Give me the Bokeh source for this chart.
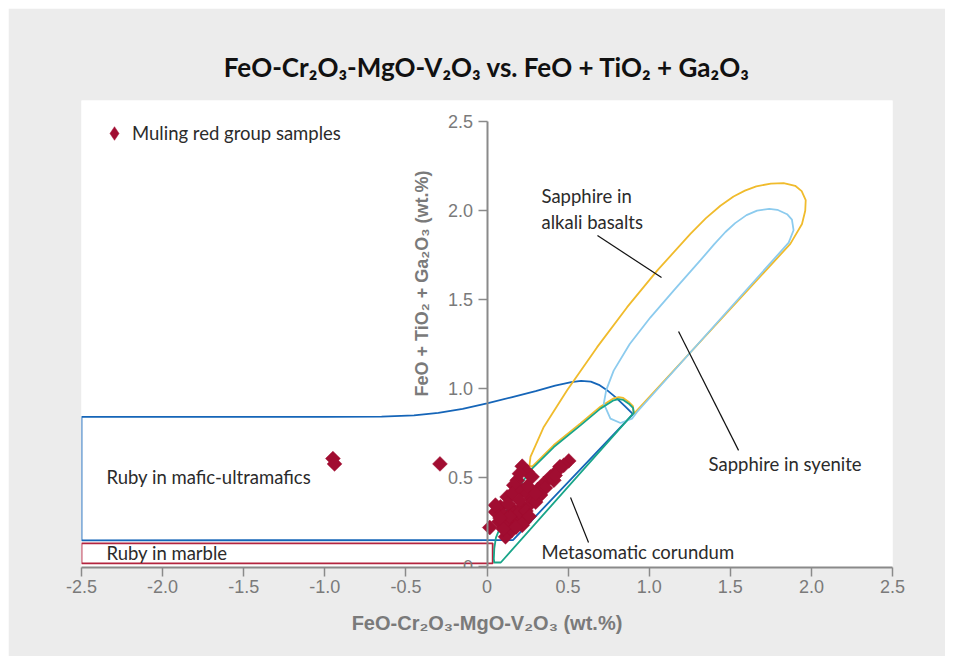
import math
from bokeh.plotting import figure
from bokeh.models import Range1d, FixedTicker, NumeralTickFormatter, Label, Legend, LegendItem, ColumnDataSource
from bokeh.core.properties import value
from bokeh.embed import file_html
from bokeh.resources import INLINE

# ---------------- data ----------------
sample_x = [-0.95, -0.94, -0.29,
            0.217, 0.248, 0.186, 0.165, 0.278, 0.504, 0.473, 0.432, 0.391, 0.350, 0.313, 0.412,
            0.124, 0.155, 0.217, 0.248, 0.278, 0.083, 0.052, 0.104, 0.165, 0.217, 0.268,
            0.186, 0.134, 0.073, 0.017, 0.114, 0.155, 0.217, 0.052, 0.45, 0.36, 0.33, 0.42,
            0.30, 0.20, 0.24, 0.20, 0.25, 0.14, 0.18, 0.10, 0.08, 0.13, 0.23, 0.26, 0.30, 0.20]
sample_y = [0.605, 0.575, 0.575,
            0.562, 0.530, 0.483, 0.455, 0.502, 0.592, 0.567, 0.535, 0.502, 0.465, 0.431, 0.483,
            0.389, 0.408, 0.426, 0.408, 0.380, 0.333, 0.305, 0.287, 0.315, 0.333, 0.351,
            0.258, 0.240, 0.249, 0.217, 0.165, 0.202, 0.230, 0.343, 0.560, 0.440, 0.400, 0.510,
            0.360, 0.300, 0.310, 0.370, 0.450, 0.280, 0.220, 0.210, 0.270, 0.350, 0.250, 0.280, 0.410, 0.520]

# field outlines (vertices of hand-read boundaries)
marble_x = [-2.5, 0.035, 0.035, -2.5, -2.5]
marble_y = [0.015, 0.015, 0.128, 0.128, 0.015]

mafic_x = [-2.5, -2.5, -1.0, -0.65, -0.45, -0.3, -0.15, 0.0, 0.15, 0.3, 0.42, 0.52, 0.58, 0.64, 0.69,
           0.74, 0.79, 0.85, 0.9, 0.16, -2.5]
mafic_y = [0.145, 0.84, 0.84, 0.841, 0.848, 0.862, 0.885, 0.915, 0.95, 0.985, 1.015, 1.035, 1.042, 1.038, 1.02,
           0.99, 0.952, 0.9, 0.855, 0.146, 0.145]

meta_x = [0.085, 0.905, 0.9, 0.874, 0.84, 0.812, 0.781, 0.699, 0.576, 0.412, 0.278, 0.2, 0.13, 0.09, 0.073,
          0.055, 0.045, 0.042, 0.045, 0.085]
meta_y = [0.02, 0.862, 0.89, 0.914, 0.935, 0.94, 0.933, 0.886, 0.792, 0.670, 0.549, 0.45, 0.33, 0.25, 0.20,
          0.16, 0.10, 0.04, 0.02, 0.02]

basalt_x = [0.262, 0.268, 0.350, 0.494, 0.679, 0.864, 1.049, 1.254, 1.35, 1.439, 1.52, 1.59, 1.66, 1.75, 1.829,
            1.90, 1.94, 1.965, 1.962, 1.942, 1.870, 0.905, 0.9, 0.872, 0.84, 0.812, 0.781, 0.699, 0.576, 0.412,
            0.278, 0.262]
basalt_y = [0.565, 0.614, 0.783, 0.989, 1.232, 1.457, 1.663, 1.869, 1.958, 2.028, 2.08, 2.113, 2.137, 2.152, 2.155,
            2.14, 2.11, 2.06, 2.0, 1.925, 1.813, 0.857, 0.9, 0.925, 0.946, 0.951, 0.944, 0.897, 0.803, 0.681,
            0.56, 0.565]

syenite_x = [0.925, 0.894, 0.823, 0.761, 0.720, 0.735, 0.781, 0.88, 1.008, 1.16, 1.315, 1.40, 1.47, 1.53, 1.6,
             1.665, 1.74, 1.79, 1.85, 1.88, 1.89, 1.86, 0.925]
syenite_y = [0.867, 0.830, 0.805, 0.830, 0.914, 0.99, 1.10, 1.25, 1.40, 1.56, 1.72, 1.81, 1.88, 1.93, 1.975,
             2.0, 2.01, 2.005, 1.98, 1.95, 1.89, 1.82, 0.867]

field_labels = ["Sapphire in", "alkali basalts", "Sapphire in syenite", "Metasomatic corundum",
                "Ruby in mafic-ultramafics", "Ruby in marble"]
label_x = [0.336, 0.336, 1.366, 0.336, -2.346, -2.346]
label_y = [2.080, 1.934, 0.572, 0.077, 0.504, 0.071]

leader_x0 = [0.681, 1.181, 0.515]
leader_y0 = [1.860, 1.320, 0.386]
leader_x1 = [1.076, 1.551, 0.626]
leader_y1 = [1.624, 0.651, 0.133]

ticks = [-2.5, -2.0, -1.5, -1.0, -0.5, 0.0, 0.5, 1.0, 1.5, 2.0, 2.5]
yticks = [0.0, 0.5, 1.0, 1.5, 2.0, 2.5]

# ---------------- styling ----------------
BG = "#ececec"
TEXT = "#2b2b2b"
GREY = "#8a8a8a"
TICKTXT = "#7a7a7a"
RED = "#a10d31"
FONT = "Lato"
AXFONT = "Liberation Sans Narrow, Liberation Sans"

p = figure(width=937, height=648, output_backend="svg", toolbar_location=None,
           x_range=Range1d(-2.5, 2.5), y_range=Range1d(-0.008, 2.62),
           min_border_left=73, min_border_right=53, min_border_top=92, min_border_bottom=89,
           background_fill_color="white", border_fill_color=BG, outline_line_color=None)
p.margin = (8, 8, 8, 8)

p.title.text = "FeO-Cr₂O₃-MgO-V₂O₃ vs. FeO + TiO₂ + Ga₂O₃"
p.title.align = "center"
p.title.text_font = FONT
p.title.text_font_size = "26px"
p.title.text_font_style = "bold"
p.title.text_color = "#111111"
p.title.standoff = 36

p.xgrid.visible = False
p.ygrid.visible = False

# x axis
p.xaxis.ticker = FixedTicker(ticks=ticks)
p.xaxis.formatter = NumeralTickFormatter(format="0.0")
p.xaxis.major_label_overrides = {0: "0"}
p.xaxis.minor_tick_line_color = None
p.xaxis.major_tick_in = 0
p.xaxis.major_tick_out = 9
p.xaxis.axis_line_color = GREY
p.xaxis.axis_line_width = 2
p.xaxis.major_tick_line_color = GREY
p.xaxis.major_tick_line_width = 1.5
p.xaxis.major_label_text_color = TICKTXT
p.xaxis.major_label_text_font = "Liberation Sans"
p.xaxis.major_label_text_font_size = "18px"
p.xaxis.major_label_standoff = 3
p.xaxis.axis_label = "FeO-Cr₂O₃-MgO-V₂O₃ (wt.%)"
p.xaxis.axis_label_text_font = AXFONT
p.xaxis.axis_label_text_font_style = "bold"
p.xaxis.axis_label_text_font_size = "20px"
p.xaxis.axis_label_text_color = TICKTXT
p.xaxis.axis_label_standoff = 16

# y axis crossing at x = 0
p.yaxis.fixed_location = 0
p.yaxis.bounds = (0, 2.5)
p.yaxis.ticker = FixedTicker(ticks=yticks)
p.yaxis.formatter = NumeralTickFormatter(format="0.0")
p.yaxis.major_label_overrides = {0: "0"}
p.yaxis.minor_tick_line_color = None
p.yaxis.major_tick_in = 0
p.yaxis.major_tick_out = 9
p.yaxis.axis_line_color = GREY
p.yaxis.axis_line_width = 2
p.yaxis.major_tick_line_color = GREY
p.yaxis.major_tick_line_width = 1.5
p.yaxis.major_label_text_color = TICKTXT
p.yaxis.major_label_text_font = "Liberation Sans"
p.yaxis.major_label_text_font_size = "18px"
p.yaxis.major_label_standoff = 5

ylab = Label(x=-0.40, y=1.59, text="FeO + TiO₂ + Ga₂O₃ (wt.%)", angle=math.pi / 2,
             text_align="center", text_baseline="middle", text_font=AXFONT,
             text_font_style="bold", text_font_size="18px", text_color=TICKTXT)
p.add_layout(ylab)

# fields
LW = 1.8
p.patch(marble_x, marble_y, fill_color=None, line_color="#b3243f", line_width=LW)
p.patch(mafic_x, mafic_y, fill_color=None, line_color="#1565b8", line_width=LW)
p.patch(basalt_x, basalt_y, fill_color=None, line_color="#f0bb2c", line_width=LW)
p.patch(syenite_x, syenite_y, fill_color=None, line_color="#8ccbee", line_width=LW)
p.patch(meta_x, meta_y, fill_color=None, line_color="#19a589", line_width=LW)

# leader lines
p.segment(x0=leader_x0, y0=leader_y0, x1=leader_x1, y1=leader_y1, line_color="#111111", line_width=1.2)

# field labels
p.text(x=label_x, y=label_y, text=field_labels, text_font=value(FONT), text_font_size="18.5px",
       text_color=TEXT, text_align="left", text_baseline="middle")

# samples
src = ColumnDataSource(dict(x=sample_x, y=sample_y))
r = p.scatter("x", "y", source=src, marker="square", angle=math.pi / 4, size=10.5,
              fill_color=RED, line_color=RED, line_width=0.5)

# legend key glyph (diamond shape, drawn only in the legend)
nan = float("nan")
proxy = p.scatter(x=[nan], y=[nan], marker="diamond", fill_color=RED, line_color=RED, line_width=0.5)

legend = Legend(items=[LegendItem(label="Muling red group samples", renderers=[proxy])],
                location="top_left", border_line_color=None, background_fill_alpha=0,
                label_text_font=FONT, label_text_font_size="18.5px", label_text_color=TEXT,
                margin=16, padding=11, label_standoff=1, glyph_width=34, glyph_height=34)
p.add_layout(legend)

open("out.html", "w").write(file_html(p, INLINE))
